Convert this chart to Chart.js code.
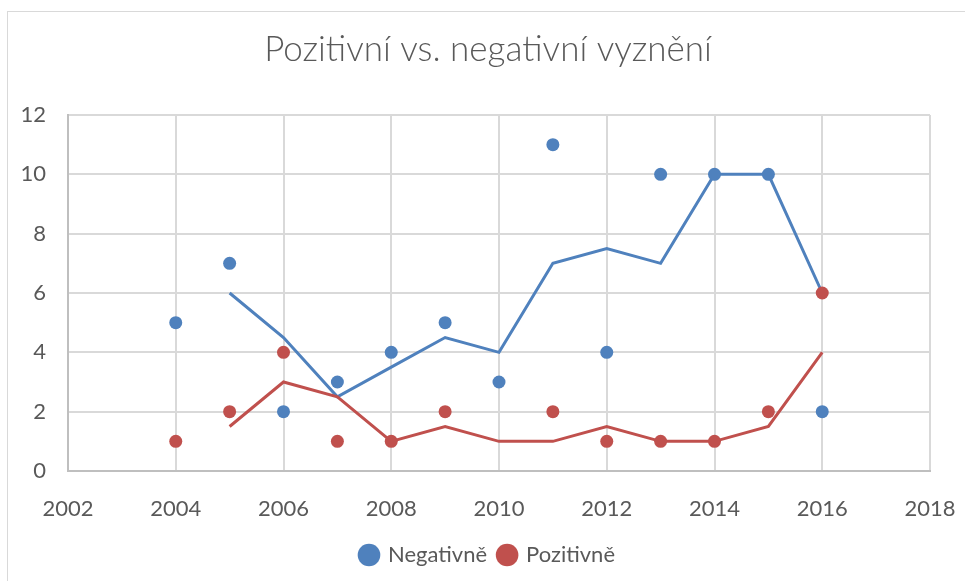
<!DOCTYPE html>
<html><head><meta charset="utf-8">
<script src="https://cdn.jsdelivr.net/npm/chart.js@4"></script>
<style>
html,body{margin:0;padding:0;background:#fff;}
#frame{position:absolute;left:7px;top:11px;width:1000px;height:600px;border:1px solid #d9d9d9;box-sizing:border-box;}
#wrap{position:absolute;left:0;top:0;width:965px;height:581px;}
</style></head>
<body>
<div id="frame"></div>
<div id="wrap"><canvas id="c" width="965" height="581"></canvas></div>
<script>
const titleText = 'Pozitivní vs. negativní vyznění';
const seriesNames = ['Negativně', 'Pozitivně'];
const negYears = [2004,2005,2006,2007,2008,2009,2010,2011,2012,2013,2014,2015,2016];
const negValues = [5,7,2,3,4,5,3,11,4,10,10,10,2];
const posYears = [2004,2005,2006,2007,2008,2009,2011,2012,2013,2014,2015,2016];
const posValues = [1,2,4,1,1,2,2,1,1,1,2,6];
const negTrendYears = [2005,2006,2007,2008,2009,2010,2011,2012,2013,2014,2015,2016];
const negTrendValues = [6,4.5,2.5,3.5,4.5,4,7,7.5,7,10,10,6];
const posTrendYears = [2005,2006,2007,2008,2009,2010,2011,2012,2013,2014,2015,2016];
const posTrendValues = [1.5,3,2.5,1,1.5,1,1,1.5,1,1,1.5,4];
const xTicks = [2002,2004,2006,2008,2010,2012,2014,2016,2018];
const yTicks = [0,2,4,6,8,10,12];

const BLUE = '#4f81bd', RED = '#c0504d';
const pts = (xs, ys) => xs.map((x,i)=>({x:x, y:ys[i]}));
const FONT = 'Lato, "Open Sans", sans-serif';

const titlePlugin = {
  id: 'customTitle',
  afterDraw(chart) {
    const ctx = chart.ctx;
    ctx.save();
    ctx.font = '300 35px ' + FONT;
    ctx.fillStyle = '#595959';
    ctx.textAlign = 'center';
    ctx.textBaseline = 'alphabetic';
    ctx.fillText(titleText, 488, 61);
    ctx.restore();
  }
};

new Chart(document.getElementById('c'), {
  type: 'scatter',
  data: {
    datasets: [
      {label: seriesNames[0], data: pts(negYears, negValues), backgroundColor: BLUE, borderColor: BLUE, pointRadius: 6.5, pointHoverRadius: 6.5, borderWidth: 0, order: 1},
      {label: seriesNames[1], data: pts(posYears, posValues), backgroundColor: RED, borderColor: RED, pointRadius: 6.5, pointHoverRadius: 6.5, borderWidth: 0, order: 0},
      {label: 'trendN', type: 'line', data: pts(negTrendYears, negTrendValues), borderColor: BLUE, borderWidth: 3, pointRadius: 0, fill: false, tension: 0, order: 3},
      {label: 'trendP', type: 'line', data: pts(posTrendYears, posTrendValues), borderColor: RED, borderWidth: 3, pointRadius: 0, fill: false, tension: 0, order: 2}
    ]
  },
  plugins: [titlePlugin],
  options: {
    responsive: false,
    animation: false,
    layout: {autoPadding: false, padding: {left: 11, right: 0, top: 115, bottom: 5}},
    plugins: {
      tooltip: {enabled: false},
      title: {display: false},
      legend: {
        position: 'bottom',
        labels: {
          filter: (item) => item.datasetIndex < 2,
          sort: (a, b) => a.datasetIndex - b.datasetIndex,
          usePointStyle: true, pointStyle: 'circle', boxWidth: 16, boxHeight: 16,
          color: '#595959', font: {family: FONT, size: 22}, padding: 12
        }
      }
    },
    scales: {
      x: {
        type: 'linear', min: 2002, max: 2018,
        afterBuildTicks: (s) => { s.ticks = xTicks.map(v=>({value:v})); },
        afterFit: (s) => { s.height = 61; s.paddingLeft = 0; s.paddingRight = 0; },
        ticks: {color: '#595959', font: {family: FONT, size: 22}, padding: 25, callback: (v)=>String(v), maxRotation: 0},
        grid: {color: '#d9d9d9', lineWidth: 2, drawTicks: false},
        border: {color: '#bfbfbf', width: 2}
      },
      y: {
        min: 0, max: 12,
        afterBuildTicks: (s) => { s.ticks = yTicks.map(v=>({value:v})); },
        afterFit: (s) => { s.width = 57; s.paddingTop = 0; s.paddingBottom = 0; },
        ticks: {color: '#595959', font: {family: FONT, size: 22}, padding: 22},
        grid: {color: '#d9d9d9', lineWidth: 2, drawTicks: false},
        border: {color: '#bfbfbf', width: 2}
      },
      yRight: {
        position: 'right', min: 0, max: 12,
        afterFit: (s) => { s.width = 35; s.paddingTop = 0; s.paddingBottom = 0; },
        ticks: {display: false},
        grid: {display: false, drawOnChartArea: false},
        border: {display: false}
      }
    }
  }
});
</script>
</body></html>
